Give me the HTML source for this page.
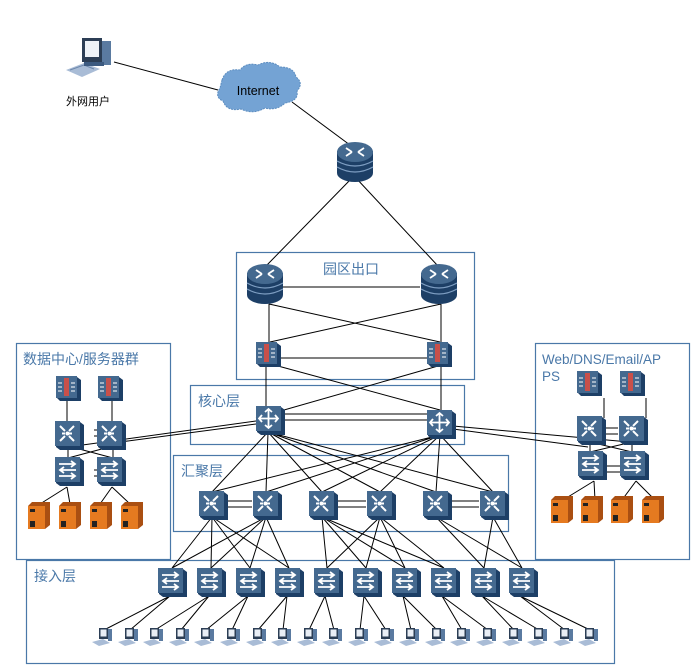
<!DOCTYPE html>
<html><head><meta charset="utf-8"><style>
html,body{margin:0;padding:0;background:#fff}
svg{display:block}
.t{font-family:"Liberation Sans","Noto Sans CJK SC",sans-serif}
</style></head><body>
<svg width="700" height="666" viewBox="0 0 700 666" xmlns="http://www.w3.org/2000/svg">
<defs>
<symbol id="box" viewBox="0 0 30 30" overflow="visible">
<path d="M2 2 L26 2 L30 5 L30 30 L6 30 L2 27 Z" fill="#1d3f66"/>
<rect x="1" y="1" width="25" height="25" fill="#44698f"/>
</symbol>
<symbol id="sw" viewBox="0 0 30 30" overflow="visible">
<use href="#box"/>
<g stroke="#fff" stroke-width="2" fill="none"><path d="M6 6 L11 11 M20 6 L15 11 M6 21 L11 16 M20 21 L15 16 M8 13.5 H11 M15 13.5 H18"/></g>
<circle cx="13.5" cy="13.5" r="2" fill="#fff"/>
</symbol>
<symbol id="acc" viewBox="0 0 30 30" overflow="visible">
<use href="#box"/>
<g stroke="#fff" stroke-width="1.8" fill="none"><path d="M5 8 H21 M17 5 L21 8 L17 11 M22 14 H6 M10 11 L6 14 L10 17 M5 20 H21 M17 17 L21 20 L17 23"/></g>
</symbol>
<symbol id="core" viewBox="0 0 30 30" overflow="visible">
<use href="#box"/>
<g stroke="#fff" stroke-width="1.8" fill="none"><path d="M13.5 4 V23 M4 13.5 H23 M10 7 L13.5 4 L17 7 M10 20 L13.5 23 L17 20 M7 10 L4 13.5 L7 17 M20 10 L23 13.5 L20 17"/></g>
</symbol>
<symbol id="fw" viewBox="0 0 26 26" overflow="visible">
<path d="M2 2 L22 2 L26 5 L26 26 L5 26 L2 23 Z" fill="#1d3f66"/>
<rect x="1" y="1" width="21" height="22" fill="#44698f"/>
<rect x="9" y="3" width="5" height="18" fill="#c9504a"/>
<g stroke="#fff" stroke-width="1"><path d="M3 8 H7 M3 12 H7 M3 16 H7 M16 8 H20 M16 12 H20 M16 16 H20"/></g>
</symbol>
<symbol id="rt" viewBox="0 0 38 42" overflow="visible">
<rect x="1" y="10" width="36" height="22" fill="#1d3f66"/>
<ellipse cx="19" cy="32" rx="18" ry="9" fill="#1d3f66"/>
<path d="M1 20 Q19 30 37 20 M1 26 Q19 36 37 26" stroke="#7e9ec2" stroke-width="1.2" fill="none"/>
<ellipse cx="19" cy="11" rx="18" ry="10" fill="#44698f"/>
<g stroke="#fff" stroke-width="1.8" fill="none"><path d="M10 7 L16 11 M28 7 L22 11 M10 15 L16 11 M28 15 L22 11"/></g>
</symbol>
<symbol id="srv" viewBox="0 0 24 28" overflow="visible">
<path d="M5 1 L23 1 L23 24 L18 28 L1 28 L1 5 Z" fill="#aa4f12"/>
<rect x="1" y="5" width="17" height="23" fill="#e57a20"/>
<rect x="3" y="8" width="5" height="3" fill="#222"/>
<rect x="3" y="20" width="5" height="6" fill="#222"/>
</symbol>
<symbol id="pc" viewBox="0 0 22 20" overflow="visible">
<path d="M0 15 L11 12 L18 16 L7 19 Z" fill="#a9bcd6"/>
<rect x="7" y="1" width="9" height="11" fill="#2c3e55"/>
<rect x="8.5" y="2.5" width="6" height="7" fill="#e9eef5"/>
<rect x="16" y="2" width="4" height="12" fill="#5a7aa0"/>
</symbol>
</defs>

<g fill="none" stroke="#4a78a8" stroke-width="1.2">
<rect x="236.5" y="252.5" width="238" height="127"/>
<rect x="16.5" y="343.5" width="154" height="216"/>
<rect x="190.5" y="385.5" width="274" height="59"/>
<rect x="173.5" y="455.5" width="335" height="76"/>
<rect x="26.5" y="560.5" width="588" height="103"/>
<rect x="535.5" y="343.5" width="154" height="216"/>
</g>
<g class="t" fill="#4a78a8" font-size="14">
<text x="323" y="274">园区出口</text>
<text x="23" y="364">数据中心/服务器群</text>
<text x="198" y="406">核心层</text>
<text x="181" y="476">汇聚层</text>
<text x="34" y="581">接入层</text>
<text x="542" y="364" font-size="13.5">Web/DNS/Email/AP</text>
<text x="542" y="381" font-size="13.5">PS</text>
</g>

<g stroke="#000" stroke-width="1" fill="none">
<path d="M114 62 L218 90 M292 102 L354 148"/>
<path d="M352 178 L266 266 M356 178 L438 266"/>
<path d="M283 287 H420 M269 304 V344 M441 304 V342 M269 304 L440 342 M441 304 L270 342"/>
<path d="M280 358 H428 M266 366 V406 M441 366 V410 M278 366 L440 410 M438 366 L256 418"/>
<path d="M282 414 H428 M282 420 H428"/>
<path d="M256 421 L68 447 M256 424 L120 442"/>
<path d="M453 426 L640 443 M453 429 L588 447"/>
<path d="M67 398 V422 M112 398 V422 M94 430 H98 M94 436 H98 M68 446 V458 M113 446 V458 M68 446 L113 458 M113 446 L68 458 M94 470 H98 M94 476 H98"/>
<path d="M604 398 V418 M646 398 V418 M604 428 H618 M604 434 H618 M590 442 V452 M632 442 V452 M590 442 L632 452 M632 442 L590 452 M606 466 H620 M606 472 H620"/>
<path d="M67 487 L40 504 M67 487 L70 504 M112 487 L100 504 M112 487 L130 504"/>
<path d="M594 481 L563 500 M594 481 L595 500 M636 481 L622 500 M636 481 L655 500"/>
<path d="M268 432 L212 492 M268 432 L266 492 M268 432 L322 492 M268 432 L380 492 M268 432 L436 492 M268 432 L493 492"/>
<path d="M440 435 L212 492 M440 435 L266 492 M440 435 L322 492 M440 435 L380 492 M440 435 L436 492 M440 435 L493 492"/>
<path d="M226 501 H252 M226 507 H252 M336 501 H366 M336 507 H366 M450 501 H479 M450 507 H479"/>
<path d="M212 517 L172 568 M212 517 L211 568 M212 517 L250 568 M212 517 L289 568 M266 517 L172 568 M266 517 L211 568 M266 517 L250 568 M266 517 L289 568"/>
<path d="M322 517 L327 568 M322 517 L366 568 M322 517 L405 568 M322 517 L444 568 M380 517 L327 568 M380 517 L366 568 M380 517 L405 568 M380 517 L444 568"/>
<path d="M436 517 L484 568 M436 517 L522 568 M493 517 L484 568 M493 517 L522 568"/>
<path d="M170 596 L104 630 M170 596 L130 630 M209 596 L155 630 M209 596 L181 630 M248 596 L206 630 M248 596 L232 630 M287 596 L258 630 M287 596 L283 630 M325 596 L309 630 M325 596 L334 630 M364 596 L360 630 M364 596 L386 630 M403 596 L411 630 M403 596 L437 630 M442 596 L462 630 M442 596 L488 630 M482 596 L514 630 M482 596 L539 630 M520 596 L565 630 M520 596 L590 630"/>
</g>

<g transform="translate(66,36)">
<path d="M0 34 L18 27 L34 33 L16 41 Z" fill="#a9bcd6"/>
<path d="M4 34 L18 29 L28 33" stroke="#6d87ab" fill="none"/>
<rect x="16" y="2" width="20" height="24" fill="#2c3e55"/>
<rect x="19" y="5" width="14" height="16" fill="#eef2f7"/>
<rect x="36" y="5" width="9" height="24" fill="#5a7aa0"/>
<rect x="18" y="26" width="20" height="4" fill="#3c5a80"/>
</g>
<text class="t" x="66" y="105" font-size="11" fill="#000">外网用户</text>
<path d="M222 80 q4 -12 18 -10 q6 -8 18 -5 q12 -6 22 2 q14 0 16 10 q8 6 1 14 q2 10 -12 12 q-8 8 -20 5 q-12 7 -24 1 q-14 3 -18 -8 q-9 -4 -3 -13 z" fill="#74a3d4" stroke="#5c8dc0" stroke-dasharray="2 1"/>
<text class="t" x="258" y="95" font-size="12.5" text-anchor="middle" fill="#000">Internet</text>

<use href="#rt" x="336" y="141" width="38" height="42"/>
<use href="#rt" x="246" y="263" width="38" height="42"/>
<use href="#rt" x="420" y="263" width="38" height="42"/>
<use href="#fw" x="255" y="341" width="26" height="26"/>
<use href="#fw" x="426" y="341" width="26" height="26"/>
<use href="#core" x="255" y="405" width="30" height="30"/>
<use href="#core" x="426" y="409" width="30" height="30"/>

<use href="#sw" x="198" y="490" width="30" height="30"/>
<use href="#sw" x="252" y="490" width="30" height="30"/>
<use href="#sw" x="308" y="490" width="30" height="30"/>
<use href="#sw" x="366" y="490" width="30" height="30"/>
<use href="#sw" x="422" y="490" width="30" height="30"/>
<use href="#sw" x="479" y="490" width="30" height="30"/>

<use href="#acc" x="157" y="567" width="30" height="30"/>
<use href="#acc" x="196" y="567" width="30" height="30"/>
<use href="#acc" x="235" y="567" width="30" height="30"/>
<use href="#acc" x="274" y="567" width="30" height="30"/>
<use href="#acc" x="313" y="567" width="30" height="30"/>
<use href="#acc" x="352" y="567" width="30" height="30"/>
<use href="#acc" x="391" y="567" width="30" height="30"/>
<use href="#acc" x="430" y="567" width="30" height="30"/>
<use href="#acc" x="470" y="567" width="30" height="30"/>
<use href="#acc" x="508" y="567" width="30" height="30"/>

<use href="#fw" x="55" y="375" width="26" height="26"/>
<use href="#fw" x="97" y="375" width="26" height="26"/>
<use href="#sw" x="54" y="420" width="30" height="30"/>
<use href="#sw" x="96" y="420" width="30" height="30"/>
<use href="#acc" x="54" y="456" width="30" height="30"/>
<use href="#acc" x="96" y="456" width="30" height="30"/>
<use href="#srv" x="27" y="501" width="24" height="28"/>
<use href="#srv" x="58" y="501" width="24" height="28"/>
<use href="#srv" x="89" y="501" width="24" height="28"/>
<use href="#srv" x="120" y="501" width="24" height="28"/>

<use href="#fw" x="576" y="370" width="26" height="26"/>
<use href="#fw" x="619" y="370" width="26" height="26"/>
<use href="#sw" x="576" y="415" width="30" height="30"/>
<use href="#sw" x="618" y="415" width="30" height="30"/>
<use href="#acc" x="577" y="450" width="30" height="30"/>
<use href="#acc" x="619" y="450" width="30" height="30"/>
<use href="#srv" x="550" y="495" width="24" height="28"/>
<use href="#srv" x="580" y="495" width="24" height="28"/>
<use href="#srv" x="610" y="495" width="24" height="28"/>
<use href="#srv" x="641" y="495" width="24" height="28"/>

<g>
<use href="#pc" x="92" y="627" width="22" height="20"/>
<use href="#pc" x="118" y="627" width="22" height="20"/>
<use href="#pc" x="143" y="627" width="22" height="20"/>
<use href="#pc" x="169" y="627" width="22" height="20"/>
<use href="#pc" x="194" y="627" width="22" height="20"/>
<use href="#pc" x="220" y="627" width="22" height="20"/>
<use href="#pc" x="246" y="627" width="22" height="20"/>
<use href="#pc" x="271" y="627" width="22" height="20"/>
<use href="#pc" x="297" y="627" width="22" height="20"/>
<use href="#pc" x="322" y="627" width="22" height="20"/>
<use href="#pc" x="348" y="627" width="22" height="20"/>
<use href="#pc" x="374" y="627" width="22" height="20"/>
<use href="#pc" x="399" y="627" width="22" height="20"/>
<use href="#pc" x="425" y="627" width="22" height="20"/>
<use href="#pc" x="450" y="627" width="22" height="20"/>
<use href="#pc" x="476" y="627" width="22" height="20"/>
<use href="#pc" x="502" y="627" width="22" height="20"/>
<use href="#pc" x="527" y="627" width="22" height="20"/>
<use href="#pc" x="553" y="627" width="22" height="20"/>
<use href="#pc" x="578" y="627" width="22" height="20"/>
</g>
</svg>
</body></html>
